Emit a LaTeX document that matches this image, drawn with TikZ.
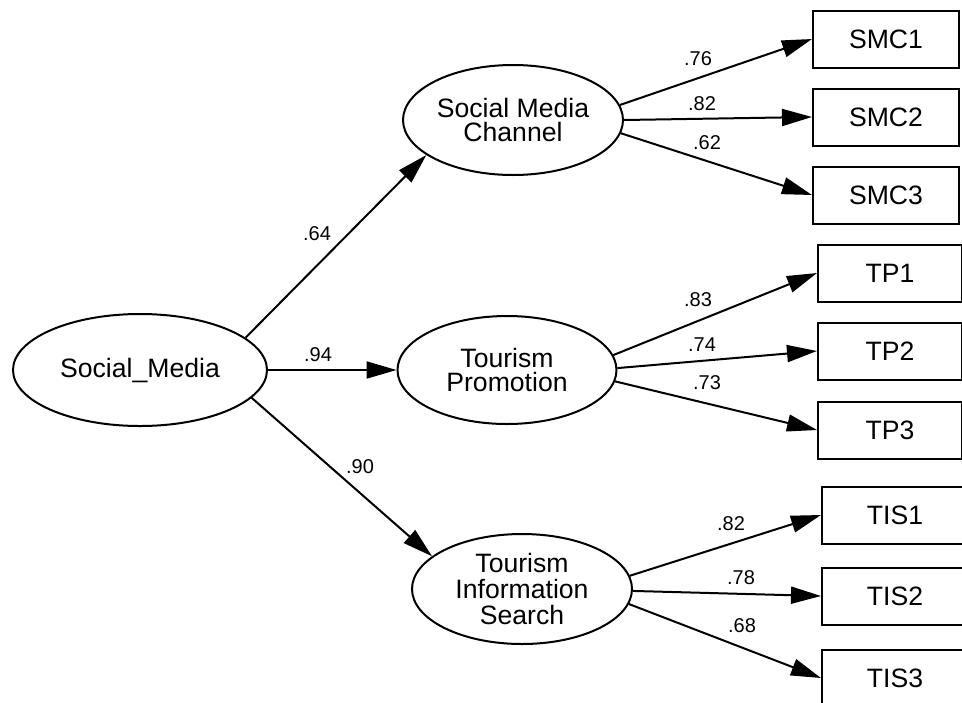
\documentclass[tikz,border=0pt]{standalone}
\usepackage{fontspec}
\setmainfont{Liberation Sans}
\usetikzlibrary{arrows.meta,shapes.geometric}
\begin{document}
\begin{tikzpicture}[x=0.5pt,y=-0.5pt,
  latent/.style={draw, ellipse, line width=1pt, inner sep=0pt, align=center,
    minimum width=110pt, minimum height=55pt, font=\fontsize{13.3}{12}\selectfont},
  observed/.style={draw, rectangle, line width=1pt, inner sep=0pt, anchor=west,
    minimum width=73pt, minimum height=28.5pt, font=\fontsize{13.3}{12}\selectfont},
  loading/.style={line width=1pt, -{Triangle[length=15pt,width=8.5pt]}},
  coef/.style={font=\fontsize{10}{11}\selectfont, inner sep=0pt}]
\useasboundingbox (0,0) rectangle (962,702);
\clip (0,0) rectangle (962,702);

% latent variables
\node[latent, minimum width=127pt, minimum height=56pt] (sm) at (140,370) {Social\_Media};
\node[latent] (smc) at (513,120) {Social Media\\Channel};
\node[latent, minimum width=109.5pt, minimum height=54pt] (tp) at (507,370) {Tourism\\Promotion};
\node[latent, font=\fontsize{13.3}{13}\selectfont] (tis) at (522,589) {Tourism\\Information\\Search};

% indicators
\node[observed] (smc1) at (812,39)  {SMC1};
\node[observed] (smc2) at (812,117) {SMC2};
\node[observed] (smc3) at (812,195) {SMC3};
\node[observed, minimum width=72pt] (tp1) at (817,273) {TP1};
\node[observed, minimum width=72pt] (tp2) at (817,351) {TP2};
\node[observed, minimum width=72pt] (tp3) at (817,430) {TP3};
\node[observed, minimum width=73pt] (tis1) at (821,515) {TIS1};
\node[observed, minimum width=73pt] (tis2) at (821,596) {TIS2};
\node[observed, minimum width=73pt] (tis3) at (821,678) {TIS3};

% structural paths
\draw[loading] (sm.17) -- (smc.202);
\draw[loading] (sm.east) -- (tp.west);
\draw[loading] (sm.-14) -- (tis.160);

% measurement paths
\draw[loading] (smc.8)  -- (smc1.west);
\draw[loading] (smc.0)  -- (smc2.west);
\draw[loading] (smc.-7) -- (smc3.west);
\draw[loading] (tp.8)   -- (tp1.west);
\draw[loading] (tp.1)   -- (tp2.west);
\draw[loading] (tp.-6)  -- (tp3.west);
\draw[loading] (tis.7)  -- (tis1.west);
\draw[loading] (tis.-1) -- (tis2.west);
\draw[loading] (tis.-8) -- (tis3.west);

% standardized estimates
\node[coef] (c1) at (317,234) {.64};
\node[coef] (c2) at (318,355) {.94};
\node[coef] (c3) at (360,467) {.90};
\node[coef] (c4) at (698,59)  {.76};
\node[coef] (c5) at (702,104) {.82};
\node[coef] (c6) at (707,143) {.62};
\node[coef] (c7) at (698,300) {.83};
\node[coef] (c8) at (702,345) {.74};
\node[coef] (c9) at (707,383) {.73};
\node[coef] (c10) at (731,524) {.82};
\node[coef] (c11) at (741,578) {.78};
\node[coef] (c12) at (742,626) {.68};
\end{tikzpicture}
\end{document}
